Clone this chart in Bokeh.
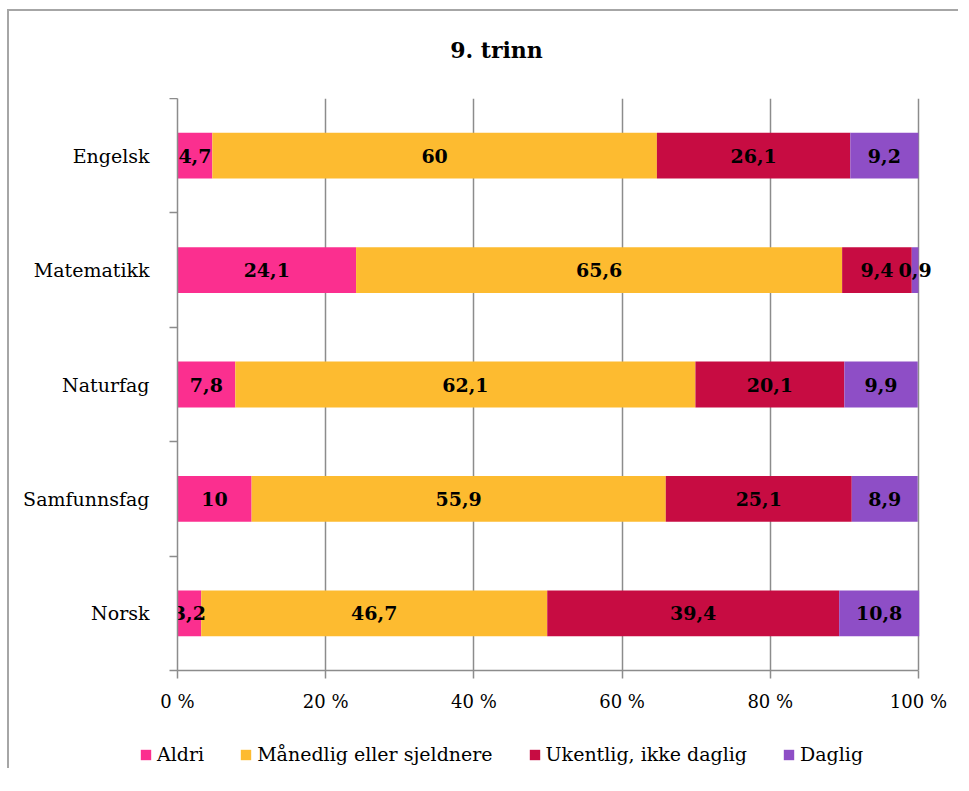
from bokeh.plotting import figure
from bokeh.models import ColumnDataSource, Range1d, FixedTicker, Legend, LegendItem, Label
from bokeh.core.properties import value
from bokeh.embed import file_html
from bokeh.resources import INLINE

categories = ["Engelsk", "Matematikk", "Naturfag", "Samfunnsfag", "Norsk"]
aldri = [4.7, 24.1, 7.8, 10, 3.2]
maanedlig = [60, 65.6, 62.1, 55.9, 46.7]
ukentlig = [26.1, 9.4, 20.1, 25.1, 39.4]
daglig = [9.2, 0.9, 9.9, 8.9, 10.8]
series_names = ["Aldri", "Månedlig eller sjeldnere", "Ukentlig, ikke daglig", "Daglig"]
series_keys = ["aldri", "maanedlig", "ukentlig", "daglig"]
colors = ["#fb2f8f", "#fdbb30", "#c70c42", "#8e4ec6"]
x_ticks = [0, 20, 40, 60, 80, 100]
title_text = "9. trinn"

SERIF = "DejaVu Serif"
BORDER = "2px solid #a6a6a6"

ypos = [i + 0.5 for i in range(len(categories))]
source = ColumnDataSource(dict(y=ypos, aldri=aldri, maanedlig=maanedlig,
                               ukentlig=ukentlig, daglig=daglig))

# ---- title strip ----
tp = figure(width=951, height=89, output_backend="svg", toolbar_location=None,
            x_range=Range1d(0, 951), y_range=Range1d(0, 89),
            min_border_left=0, min_border_right=0, min_border_top=0, min_border_bottom=0)
tp.styles = {"border-top": BORDER, "border-left": BORDER,
             "margin-left": "7px", "margin-top": "9px"}
tp.axis.visible = False
tp.grid.visible = False
tp.outline_line_color = None
tp.add_layout(Label(x=487, y=51, text=title_text, text_font=SERIF, text_font_style="bold",
                    text_font_size="22px", text_color="black",
                    text_align="center", text_baseline="middle"))

# ---- main chart ----
p = figure(width=951, height=630, output_backend="svg", toolbar_location=None,
           x_range=Range1d(0, 105), y_range=Range1d(len(categories), 0),
           min_border_left=168, min_border_right=5, min_border_top=0, min_border_bottom=58)
p.styles = {"border-left": BORDER, "margin-left": "7px"}

p.hbar_stack(series_keys, y="y", height=0.40, source=source, color=colors, line_color=None)

# value labels
seg_x, seg_y, seg_t = [], [], []
all_vals = [aldri, maanedlig, ukentlig, daglig]
for i in range(len(categories)):
    left = 0.0
    for vals in all_vals:
        v = vals[i]
        seg_x.append(left + v / 2)
        seg_y.append(ypos[i])
        seg_t.append(f"{v:g}".replace(".", ","))
        left += v
lab_src = ColumnDataSource(dict(x=seg_x, y=seg_y, t=seg_t))
p.text(x="x", y="y", text="t", source=lab_src, text_align="center",
       text_baseline="middle", text_font=value(SERIF), text_font_style="bold",
       text_font_size="19px", text_color="black")

grid_col = "#8c8c8c"
# x axis
xa = p.xaxis[0]
xa.ticker = FixedTicker(ticks=x_ticks)
xa.bounds = (0, 100)
xa.major_label_overrides = {t: f"{t} %" for t in x_ticks}
xa.major_label_text_font = SERIF
xa.major_label_text_font_size = "18px"
xa.major_label_text_color = "black"
xa.axis_line_color = grid_col
xa.axis_line_width = 1.5
xa.major_tick_line_color = grid_col
xa.major_tick_line_width = 1.5
xa.major_tick_out = 8
xa.major_tick_in = 0
xa.minor_tick_line_color = None
xa.major_label_standoff = 12

# y axis
ya = p.yaxis[0]
ya.ticker = FixedTicker(ticks=ypos, minor_ticks=list(range(len(categories) + 1)))
ya.major_label_overrides = {y: c for y, c in zip(ypos, categories)}
ya.major_label_text_font = SERIF
ya.major_label_text_font_size = "19px"
ya.major_label_text_color = "black"
ya.axis_line_color = grid_col
ya.axis_line_width = 1.5
ya.major_tick_line_color = None
ya.major_tick_out = 0
ya.major_tick_in = 0
ya.minor_tick_line_color = grid_col
ya.minor_tick_line_width = 1.5
ya.minor_tick_out = 8
ya.minor_tick_in = 0
ya.major_label_standoff = 20

p.xgrid.ticker = FixedTicker(ticks=x_ticks)
p.xgrid.grid_line_color = grid_col
p.xgrid.grid_line_width = 1.5
p.ygrid.grid_line_color = None
p.outline_line_color = None

# ---- legend strip: separate root so the legend is not clipped by the main frame.
# Its ranges lie away from the data, so only the legend swatches are visible.
lp = figure(width=951, height=40, output_backend="svg", toolbar_location=None,
            x_range=Range1d(0, 100), y_range=Range1d(100, 101),
            min_border_left=0, min_border_right=0, min_border_top=0, min_border_bottom=0)
lp.styles = {"border-left": BORDER, "margin-left": "7px"}
lp.axis.visible = False
lp.grid.visible = False
lp.outline_line_color = None
leg_renderers = lp.hbar_stack(series_keys, y="y", height=0.40, source=source,
                              color=colors, line_color=None)
items = [LegendItem(label=n, renderers=[r]) for n, r in zip(series_names, leg_renderers)]
legend = Legend(items=items, orientation="horizontal", location=(130, 3),
                padding=0, margin=0, spacing=35, glyph_width=13, glyph_height=13,
                label_standoff=5, label_text_font=SERIF, label_text_font_size="19px",
                label_text_color="black", border_line_color=None,
                background_fill_alpha=0)
lp.add_layout(legend, "center")

open("out.html", "w").write(file_html([tp, p, lp], INLINE))
